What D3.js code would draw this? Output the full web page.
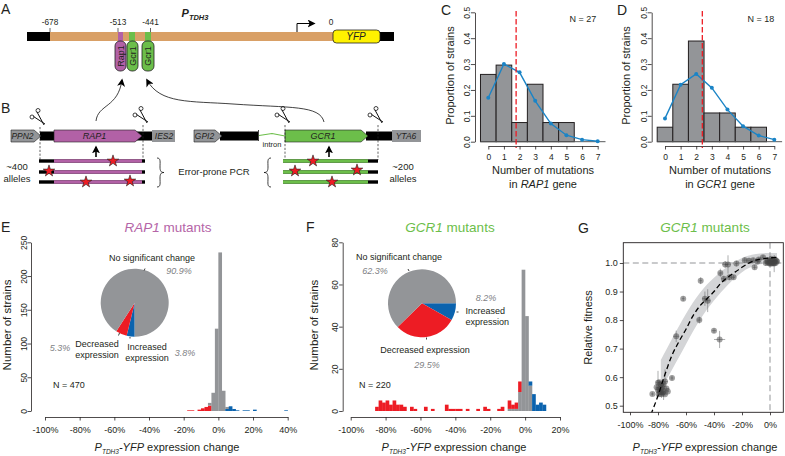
<!DOCTYPE html>
<html><head><meta charset="utf-8">
<script src="https://cdn.jsdelivr.net/npm/d3@7"></script>
<style>html,body{margin:0;padding:0;background:#fff}svg{display:block}text{font-family:"Liberation Sans",Arial,sans-serif;fill:#231f20}</style>
</head><body><svg id="c" width="785" height="456"></svg>
<script>
// ---------- data ----------
const mutationCounts = [0,1,2,3,4,5,6,7];
const rapBars  = [0.26,0.296,0.074,0.222,0.074,0.074,0,0];
const rapFit   = [0.17,0.30,0.268,0.158,0.07,0.025,0.008,0.002];
const rapMean  = 1.78;
const gcrBars  = [0.056,0.222,0.389,0.111,0.111,0.056,0.056,0];
const gcrFit   = [0.09,0.22,0.262,0.208,0.124,0.06,0.024,0.008];
const gcrMean  = 2.39;
const propTicks = [0,0.1,0.2,0.3,0.4,0.5];

const pieLabels = ["Increased","Decreased","None"];
const rapPie = [3.8,5.3,90.9];
const gcrPie = [8.2,29.5,62.3];

// histogram bins: [left edge %, count]
const rapGrey = [[-6,4],[-4,27],[-2,122],[0,235],[2,30],[4,3]];
const rapRed  = [[-18,1],[-16,1],[-12,2],[-10,4],[-8,6],[-6,8]];
const rapBlue = [[4,3],[6,7],[8,3],[10,1],[14,1],[16,1],[20,2],[38,1]];
const gcrGrey = [[-10,1],[-8,1],[-6,1],[-4,9],[-2,67],[0,45],[2,12]];
const gcrRed  = [[-86,2],[-84,5],[-82,4],[-80,5],[-78,3],[-76,5],[-74,3],[-72,3],[-70,2],[-66,2],[-64,1],[-58,2],[-54,1],[-46,3],[-44,1],[-42,1],[-40,1],[-38,1],[-34,1],[-28,1],[-24,2],[-22,1],[-16,1],[-14,2],[-10,4],[-8,2],[-6,3],[-4,5]];
const gcrBlue = [[2,2],[4,8],[6,3],[8,4],[10,3]];
const rapCountTicks = [0,50,100,150,200,250];
const gcrCountTicks = [0,20,40,60,80];
const rapPctTicks = [-100,-80,-60,-40,-20,0,20,40];
const gcrPctTicks = [-100,-80,-60,-40,-20,0,20];
const fitPctTicks = [-100,-80,-60,-40,-20,0];
const fitTicks = [0.5,0.6,0.7,0.8,0.9,1.0];

const curveX = [-85,-80,-75,-70,-65,-60,-55,-50,-45,-40,-35,-30,-25,-20,-15,-10,-5,0,5];
const curveY = [0.47,0.535,0.61,0.677,0.725,0.768,0.815,0.85,0.875,0.90,0.93,0.95,0.968,0.985,1.0,1.01,1.015,1.018,1.02];
const bandX  = [-78,-70,-60,-50,-40,-30,-20,-10,0,5];
const bandHi = [0.66,0.735,0.825,0.90,0.95,0.99,1.02,1.033,1.035,1.035];
const bandLo = [0.555,0.625,0.715,0.805,0.87,0.925,0.972,0.995,1.0,1.0];
// [x %, fitness, x err, y err]
const fitPoints = [
[-62,.875,1,.008],[-49.5,.938,1,.012],[-46.5,.875,2,.025],[-44.5,.868,2,.04],[-50.5,.80,1.5,.012],[-40,.763,1.5,.008],[-36,.732,4,.03],
[-67,.743,2,.02],[-70,.597,1,.008],[-35.5,.965,1.5,.015],[-32,.995,2,.012],[-30,.995,2,.032],[-33,.945,2,.01],[-29,.95,1.5,.01],[-26,.95,1,.008],[-24,.998,1,.01],
[-18,1.01,1.5,.01],[-15,1.008,1,.01],[-11,.985,1.5,.008],[-12,1.01,1,.008],[-8,1.012,1,.008],[-5,1.02,1,.008],[-9,1.005,1,.006],
[-3,1.0,1,.01],[-2,1.005,1,.012],[-1,1.0,1,.008],[0,1.008,1,.01],[0.5,1.0,1,.006],[1,1.005,1,.012],[1.5,.998,1,.008],[2,1.01,1,.006],[2.5,1.0,1,.01],[3,1.005,1,.008],[3.5,1.012,1,.006],[4,1.0,1,.008],[4.5,1.008,1,.012],[5,1.005,1,.006],[-1.5,1.01,1,.006],[1,1.015,1,.006],[3,.998,1,.03],[0,.997,1,.006],
[-84,.541,1,.006],[-81,.565,1,.01],[-80,.58,1.5,.042],[-80,.555,1,.01],[-79.5,.54,1,.008],[-79,.55,1,.012],[-79,.582,1,.006],[-78.5,.565,1,.012],[-78,.548,1.5,.008],[-78,.56,1,.01],[-78,.575,1,.01],[-77.5,.54,1,.012],[-77,.545,1,.008],[-77,.565,1,.01],[-76,.575,1,.006],[-76,.55,1,.03],[-75,.585,2,.042],[-75,.54,1.5,.006],[-74,.56,2,.008],[-73,.55,1,.006]];

// ---------- colours ----------
const GREY="#939598", RED="#ED1C24", BLUE="#0B63AE", PURPLE="#B261A6", GREEN="#6CBE4A", TAN="#D9A066", YELLOW="#FFF200", LINEBLUE="#1B84C6", BLK="#000";

const svg=d3.select("#c");
const defs=svg.append("defs");
defs.append("marker").attr("id","ah").attr("viewBox","0 0 10 10").attr("refX",8).attr("refY",5)
 .attr("markerWidth",8).attr("markerHeight",8).attr("markerUnits","userSpaceOnUse").attr("orient","auto")
 .append("path").attr("d","M0,0L10,5L0,10L2.5,5Z").attr("fill","#000");

function T(x,y,parts,o={}){
  const g=svg.append("text").attr("x",x).attr("y",y).attr("text-anchor",o.anchor||"middle")
    .attr("font-size",o.size||9);
  if(o.rotate) g.attr("transform",`rotate(${o.rotate},${x},${y})`);
  if(o.fill) g.style("fill",o.fill);
  if(o.italic) g.attr("font-style","italic");
  if(o.weight) g.attr("font-weight",o.weight);
  (Array.isArray(parts)?parts:[parts]).forEach(p=>{
    if(typeof p==="string") g.append("tspan").text(p);
    else{
      const s=g.append("tspan").text(p.t);
      if(p.i) s.attr("font-style","italic");
      if(p.sub){ s.attr("font-size",p.sub).attr("dy",2.5); }
      if(p.up) s.attr("dy",-p.up);
    }
  });
  return g;
}
const ptdh3Label=[{t:"P",i:1},{t:"TDH3",i:1,sub:6.5},{t:"-YFP",i:1,up:2.5}," expression change"];

// panel letters
[["A",1,14],["B",1,113],["C",441,15],["D",617,15],["E",1,232],["F",306,232],["G",578,233]].forEach(d=>T(d[1],d[2],d[0],{size:14,anchor:"start"}));

// ---------- A: promoter ----------
const px=d3.scaleLinear().domain([-678,0]).range([50,331]);
const barY=32,barH=9;
svg.append("rect").attr("x",27).attr("y",barY).attr("width",367).attr("height",barH).attr("fill",BLK);
svg.append("rect").attr("x",px(-678)).attr("y",barY).attr("width",px(0)-px(-678)+4).attr("height",barH).attr("fill",TAN);
svg.append("rect").attr("x",118).attr("y",barY).attr("width",5).attr("height",barH).attr("fill",PURPLE);
svg.append("rect").attr("x",129).attr("y",barY).attr("width",6).attr("height",barH).attr("fill",GREEN);
svg.append("rect").attr("x",145).attr("y",barY).attr("width",6).attr("height",barH).attr("fill",GREEN);
svg.append("rect").attr("x",333).attr("y",30).attr("width",47).attr("height",13).attr("rx",3.5).attr("fill",YELLOW).attr("stroke","#222").attr("stroke-width",.8);
T(356,40,"YFP",{size:10,italic:1});
[[-678,"-678",50],[-513,"-513",118],[-441,"-441",150.5]].forEach(d=>{
  svg.append("line").attr("x1",d[2]).attr("x2",d[2]).attr("y1",28).attr("y2",barY).attr("stroke","#222").attr("stroke-width",.7);
  T(d[2],25,d[1],{size:8.3});
});
T(331,25,"0",{size:8.3});
T(195,17,[{t:"P",i:1},{t:"TDH3",i:1,sub:7.5}],{size:11,weight:"bold"});
svg.append("path").attr("d","M297,32V23.5H314").attr("fill","none").attr("stroke","#000").attr("stroke-width",1).attr("marker-end","url(#ah)");
[[115,11,PURPLE,"Rap1"],[127,11,GREEN,"Gcr1"],[142,12,GREEN,"Gcr1"]].forEach(d=>{
  svg.append("rect").attr("x",d[0]).attr("y",41).attr("width",d[1]).attr("height",30).attr("rx",5).attr("fill",d[2]).attr("stroke","#222").attr("stroke-width",.8);
  T(d[0]+d[1]/2+3,56,d[3],{size:9,rotate:-90});
});
svg.append("path").attr("d","M96,121C98,104 118,108 122,80").attr("fill","none").attr("stroke","#111").attr("stroke-width",.8).attr("marker-end","url(#ah)");
svg.append("path").attr("d","M324,122C320,105 290,108 233,104C190,101 160,104 147,80").attr("fill","none").attr("stroke","#111").attr("stroke-width",.8).attr("marker-end","url(#ah)");

// ---------- B: genes ----------
function arrowGene(x0,x1,fill,name,size,fc){
  const y0=130,y1=142,m=136,tip=Math.min(7,(x1-x0)/3);
  svg.append("path").attr("d",`M${x0},${y0}H${x1-tip}L${x1},${m}L${x1-tip},${y1}H${x0}Z`).attr("fill",fill).attr("stroke","#222").attr("stroke-width",.6);
  T((x0+x1)/2-(tip/2),m+3.2,name,{size:size||8.5,italic:1,fill:fc});
}
svg.append("rect").attr("x",40).attr("y",131.5).attr("width",112).attr("height",9).attr("fill",BLK);
svg.append("rect").attr("x",220).attr("y",131.5).attr("width",38).attr("height",9).attr("fill",BLK);
svg.append("rect").attr("x",366).attr("y",131.5).attr("width",28).attr("height",9).attr("fill",BLK);
arrowGene(11,41,GREY,"PPN2");
arrowGene(54,142,PURPLE,"RAP1",9);
svg.append("path").attr("d","M152,130H175V142H152Z").attr("fill",GREY);
T(164,139,"IES2",{size:8.5,italic:1});
arrowGene(194,222,GREY,"GPI2");
arrowGene(285,368,GREEN,"GCR1",9);
svg.append("path").attr("d","M392,130H421V142H392Z").attr("fill",GREY);
T(406,139,"YTA6",{size:8.5,italic:1});
svg.append("path").attr("d","M259,135.5L272,133.5L285,136").attr("fill","none").attr("stroke",GREEN).attr("stroke-width",1.2);
svg.append("line").attr("x1",258.5).attr("x2",258.5).attr("y1",130).attr("y2",141).attr("stroke","#111").attr("stroke-width",.8);
T(272,147,"intron",{size:7.5});
[[40,127],[143,125],[285,125],[378,125]].forEach(d=>{
  svg.append("line").attr("x1",d[0]).attr("x2",d[0]).attr("y1",d[1]).attr("y2",160).attr("stroke","#222").attr("stroke-width",.7).attr("stroke-dasharray","2.2,1.6");
  const g=svg.append("g").attr("transform",`translate(${d[0]},${d[1]-10})`).attr("fill","none").attr("stroke","#111").attr("stroke-width",1);
  g.append("path").attr("d","M-6.5,-.5L5,7M-3,-5L4,8");
  g.append("circle").attr("cx",-8).attr("cy",0).attr("r",2).attr("stroke-width",.8);
  g.append("circle").attr("cx",-2).attr("cy",-6.5).attr("r",2).attr("stroke-width",.8);
});
[96,329].forEach(x=>svg.append("path").attr("d",`M${x},157V147`).attr("stroke","#000").attr("stroke-width",1.6).attr("marker-end","url(#ah)"));
const alleleY=[161,172,182];
alleleY.forEach(y=>{
  svg.append("rect").attr("x",39).attr("y",y-1.7).attr("width",106).attr("height",3.4).attr("fill",BLK);
  svg.append("rect").attr("x",54).attr("y",y-1.7).attr("width",88).attr("height",3.4).attr("fill",PURPLE);
  svg.append("rect").attr("x",283).attr("y",y-1.7).attr("width",95).attr("height",3.4).attr("fill",BLK);
  svg.append("rect").attr("x",283).attr("y",y-1.7).attr("width",85).attr("height",3.4).attr("fill",GREEN);
});
[[113,161],[49,171],[86,182],[130,181],[313,161],[295,171],[357,170],[332,182]].forEach(d=>
  svg.append("path").attr("transform",`translate(${d[0]},${d[1]})`).attr("d",d3.symbol(d3.symbolStar).size(42)()).attr("fill",RED).attr("stroke","#222").attr("stroke-width",.6));
T(17,170,"~400",{size:9.5});T(17,182,"alleles",{size:9.5});
T(403,170,"~200",{size:9.5});T(403,182,"alleles",{size:9.5});
T(214,175,"Error-prone PCR",{size:9.5});
svg.append("path").attr("d","M157,158C161,158 160,162 160,167C160,171 161,172.5 164,172.5C161,172.5 160,174 160,178C160,183 161,187 157,187").attr("fill","none").attr("stroke","#111").attr("stroke-width",.8);
svg.append("path").attr("d","M271,158C267,158 268,162 268,167C268,171 267,172.5 264,172.5C267,172.5 268,174 268,178C268,183 267,187 271,187").attr("fill","none").attr("stroke","#111").attr("stroke-width",.8);

// ---------- C, D ----------
function styleAxis(g,color){
  g.selectAll("path.domain").attr("stroke",color||"#231f20").attr("stroke-width",.8);
  g.selectAll(".tick line").attr("stroke",color||"#231f20").attr("stroke-width",.8);
  g.selectAll("text").attr("font-family","Liberation Sans").attr("fill","#231f20");
}
function mutPanel(x0,x7,axisX,bars,fit,mean,n,nx,cx,ylx,gene){
  const x=d3.scaleLinear().domain([0,7]).range([x0,x7]);
  const y=d3.scaleLinear().domain([0,0.5]).range([141.7,12.3]);
  const w=x(1)-x(0);
  svg.append("g").selectAll("rect").data(bars.map((v,i)=>[i,v]).filter(d=>d[1]>0)).join("rect")
    .attr("x",d=>x(d[0])-w/2).attr("width",w).attr("y",d=>y(d[1])).attr("height",d=>y(0)-y(d[1]))
    .attr("fill",GREY).attr("stroke","#231f20").attr("stroke-width",1);
  svg.append("line").attr("x1",x(-0.5)).attr("x2",x(7.5)).attr("y1",y(0)).attr("y2",y(0)).attr("stroke","#58595b").attr("stroke-width",1);
  svg.append("path").attr("d",d3.line().x((d,i)=>x(mutationCounts[i])).y(d=>y(d))(fit)).attr("fill","none").attr("stroke",LINEBLUE).attr("stroke-width",1.4);
  svg.append("g").selectAll("circle").data(fit).join("circle").attr("cx",(d,i)=>x(mutationCounts[i])).attr("cy",d=>y(d)).attr("r",2).attr("fill",LINEBLUE);
  svg.append("line").attr("x1",x(mean)).attr("x2",x(mean)).attr("y1",11).attr("y2",148).attr("stroke",RED).attr("stroke-width",1.3).attr("stroke-dasharray","5.5,2.5");
  const ax=svg.append("g").attr("transform",`translate(${axisX},0)`).call(d3.axisLeft(y).tickValues(propTicks).tickFormat(d3.format(".1f")).tickSize(4).tickSizeOuter(0));
  styleAxis(ax);
  ax.selectAll("text").attr("font-size",8.5).attr("text-anchor","middle").attr("dy",0).attr("x",0).attr("y",0)
    .attr("transform",`translate(-5,0) rotate(-90)`);
  const bx=svg.append("g").attr("transform","translate(0,146)").call(d3.axisBottom(x).tickValues(mutationCounts).tickFormat(d3.format("d")).tickSize(3.5).tickSizeOuter(0));
  styleAxis(bx);
  bx.selectAll("text").attr("font-size",8.5).attr("y",8);
  T(nx,22,"N = "+n,{size:9});
  T(cx,174,"Number of mutations",{size:11});
  T(cx,188,["in ",{t:gene,i:1}," gene"],{size:11});
  T(ylx,75.5,"Proportion of strains",{size:11,rotate:-90});
}
mutPanel(488.3,597.7,475,rapBars,rapFit,rapMean,27,583,543,454,"RAP1");
mutPanel(665,774.3,651.7,gcrBars,gcrFit,gcrMean,18,761,720,630,"GCR1");

// ---------- E, F ----------
function histPanel(o){
  const x=d3.scaleLinear().domain([-100,o.xMax]).range([o.x0,o.x1]);
  const y=d3.scaleLinear().domain([0,o.yMax]).range([411,242.3]);
  const grey=new Map(o.grey), red=new Map(o.red), blue=new Map(o.blue);
  const bw=x(2)-x(0);
  const segs=[];
  const edges=new Set([...grey.keys(),...red.keys(),...blue.keys()]);
  edges.forEach(e=>{
    let base=0;
    const order=o.colorFirst?[[red,RED],[blue,BLUE],[grey,GREY]]:[[grey,GREY],[red,RED],[blue,BLUE]];
    order.forEach(([m,c])=>{ if(m.has(e)){segs.push({e,b:base,t:base+m.get(e),c});base+=m.get(e);} });
  });
  svg.append("g").selectAll("rect").data(segs).join("rect")
    .attr("x",d=>x(d.e)).attr("width",bw+.2).attr("y",d=>y(d.t)).attr("height",d=>y(d.b)-y(d.t)).attr("fill",d=>d.c);
  const ax=svg.append("g").attr("transform",`translate(${o.axisX},0)`).call(d3.axisLeft(y).tickValues(o.yTicks).tickSize(3.5).tickSizeOuter(0));
  styleAxis(ax);
  ax.selectAll("text").attr("font-size",8.5).attr("text-anchor","middle").attr("dy",0).attr("x",0).attr("y",0)
    .attr("transform",`translate(-4.5,0) rotate(-90)`);
  const bx=svg.append("g").attr("transform","translate(0,417)").call(d3.axisBottom(x).tickValues(o.xTicks).tickFormat(d=>d+"%").tickSize(3.5).tickSizeOuter(0));
  styleAxis(bx);
  bx.selectAll("text").attr("font-size",9).attr("y",10);
  const arc=d3.arc().innerRadius(0).outerRadius(34);
  const pie=d3.pie().sort(null).startAngle(o.pieStart).endAngle(o.pieStart+2*Math.PI)(o.pie);
  svg.append("g").attr("transform",`translate(${o.pc[0]},${o.pc[1]})`).selectAll("path").data(pie).join("path")
    .attr("d",arc).attr("fill",(d,i)=>[BLUE,RED,GREY][i]);
}
histPanel({x0:45,x1:287.7,xMax:40,yMax:250,grey:rapGrey,red:rapRed,blue:rapBlue,colorFirst:true,axisX:31,yTicks:rapCountTicks,xTicks:rapPctTicks,pie:rapPie,pieStart:Math.PI,pc:[134.7,302.7]});
histPanel({x0:350.7,x1:560,xMax:20,yMax:80,grey:gcrGrey,red:gcrRed,blue:gcrBlue,colorFirst:false,axisX:342.7,yTicks:gcrCountTicks,xTicks:gcrPctTicks,pie:gcrPie,pieStart:Math.PI/2,pc:[422,303.3]});

const PCT="#808285";
T(168,232,[{t:"RAP1",i:1}," mutants"],{size:13.5}).selectAll("tspan").style("fill","#B565A7");
T(10.5,325,"Number of strains",{size:11.5,rotate:-90});
T(167,451,ptdh3Label,{size:11});
T(152,261,"No significant change",{size:9});
T(179,274,"90.9%",{size:9,italic:1,fill:PCT});
T(97,347,"Decreased",{size:9});T(97,358,"expression",{size:9});
T(147,350,"Increased",{size:9});T(147,361,"expression",{size:9});
T(60,351,"5.3%",{size:9,italic:1,fill:PCT});
T(185,356,"3.8%",{size:9,italic:1,fill:PCT});
T(53,388,"N = 470",{size:9,anchor:"start"});
svg.append("path").attr("d","M145,268.5L144.2,270.5M119.5,333L118.5,335.5M130,337L130,338.5").attr("stroke","#111").attr("stroke-width",.8);

T(450,232,[{t:"GCR1",i:1}," mutants"],{size:13.5}).selectAll("tspan").style("fill",GREEN);
T(318,325,"Number of strains",{size:11.5,rotate:-90});
T(454,451,ptdh3Label,{size:11});
T(399,260,"No significant change",{size:9});
T(375,274,"62.3%",{size:9,italic:1,fill:PCT});
T(486,301,"8.2%",{size:9,italic:1,fill:PCT});
T(465.5,314,"Increased",{size:9,anchor:"start"});
T(465.5,325,"expression",{size:9,anchor:"start"});
T(425,353,"Decreased expression",{size:9});
T(427,368,"29.5%",{size:9,italic:1,fill:PCT});
T(359,388,"N = 220",{size:9,anchor:"start"});
svg.append("path").attr("d","M408,269L409,271M456.5,312H458.5M426.5,337.5V339.5").attr("stroke","#111").attr("stroke-width",.8);

// ---------- G ----------
(function(){
  const x=d3.scaleLinear().domain([-100,0]).range([630,770]);
  const y=d3.scaleLinear().domain([0.5,1.0]).range([405.7,263]);
  const L=623.3,R=783.3,TP=242.7,B=412.3;
  defs.append("clipPath").attr("id","gc").append("rect").attr("x",L).attr("y",TP).attr("width",R-L).attr("height",B-TP);
  const g=svg.append("g").attr("clip-path","url(#gc)");
  const band=d3.area().x((d,i)=>x(bandX[i])).y0((d,i)=>y(bandLo[i])).y1(d=>y(d)).curve(d3.curveBasis);
  g.append("path").attr("d",band(bandHi)).attr("fill","#d4d5d7");
  g.append("line").attr("x1",L).attr("x2",R).attr("y1",y(1)).attr("y2",y(1)).attr("stroke","#939598").attr("stroke-width",1).attr("stroke-dasharray","6,3.5");
  g.append("line").attr("x1",x(0)).attr("x2",x(0)).attr("y1",TP).attr("y2",B).attr("stroke","#939598").attr("stroke-width",1).attr("stroke-dasharray","6,3.5");
  const errs=g.append("g").attr("stroke","#58595b").attr("stroke-opacity",.7).attr("stroke-width",.7);
  fitPoints.forEach(d=>{
    errs.append("line").attr("x1",x(d[0]-d[2])).attr("x2",x(d[0]+d[2])).attr("y1",y(d[1])).attr("y2",y(d[1]));
    errs.append("line").attr("x1",x(d[0])).attr("x2",x(d[0])).attr("y1",y(d[1]-d[3])).attr("y2",y(d[1]+d[3]));
  });
  g.append("g").selectAll("circle").data(fitPoints).join("circle").attr("cx",d=>x(d[0])).attr("cy",d=>y(d[1])).attr("r",3).attr("fill","#444").attr("fill-opacity",.5);
  g.append("path").attr("d",d3.line().x((d,i)=>x(curveX[i])).y(d=>y(d)).curve(d3.curveMonotoneX)(curveY)).attr("fill","none").attr("stroke","#000").attr("stroke-width",1.3).attr("stroke-dasharray","5,3");
  svg.append("rect").attr("x",L).attr("y",TP).attr("width",R-L).attr("height",B-TP).attr("fill","none").attr("stroke","#231f20").attr("stroke-width",.9);
  const bx=svg.append("g").attr("transform",`translate(0,${B})`).call(d3.axisBottom(x).tickValues(fitPctTicks).tickFormat(d=>d+"%").tickSize(3).tickSizeOuter(0));
  styleAxis(bx); bx.select("path.domain").remove();
  bx.selectAll("text").attr("font-size",9).attr("y",9.5);
  const ay=svg.append("g").attr("transform",`translate(${L},0)`).call(d3.axisLeft(y).tickValues(fitTicks).tickFormat(d3.format(".1f")).tickSize(3.5).tickSizeOuter(0));
  styleAxis(ay); ay.select("path.domain").remove();
  ay.selectAll("text").attr("font-size",9).attr("x",-5.5);
  T(705,232,[{t:"GCR1",i:1}," mutants"],{size:13.5}).selectAll("tspan").style("fill",GREEN);
  T(592,327.5,"Relative fitness",{size:11,rotate:-90});
  T(705,451,ptdh3Label,{size:11});
})();
</script></body></html>
